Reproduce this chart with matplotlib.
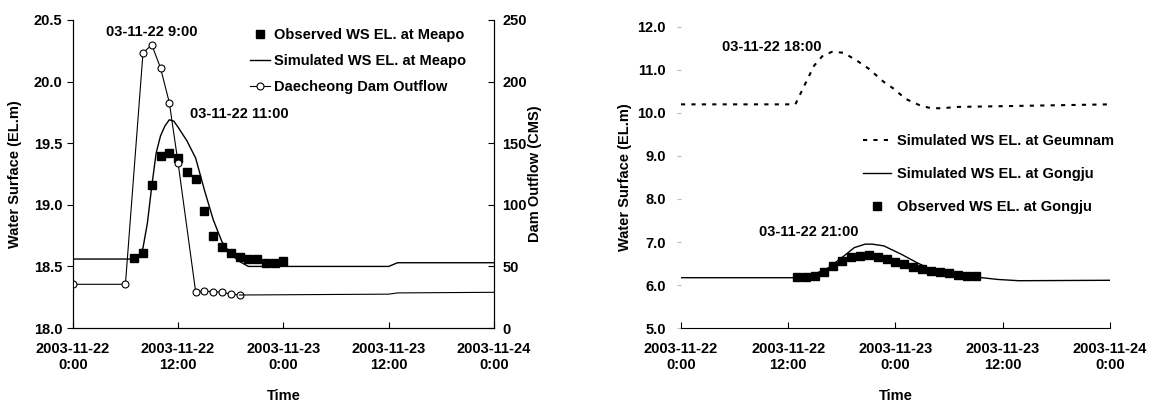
import matplotlib.pyplot as plt
import numpy as np

plt.rcParams['font.family'] = ['Liberation Sans', 'DejaVu Sans']
plt.rcParams['font.weight'] = 'bold'
plt.rcParams['axes.labelweight'] = 'bold'

# hours since 2003-11-22 0:00
# --- left chart: Meapo / Daecheong dam
obs_meapo_h = [7, 8, 9, 10, 11, 12, 13, 14, 15, 16, 17, 18, 19, 20, 21, 22, 23, 24]
obs_meapo = [18.57, 18.61, 19.16, 19.40, 19.42, 19.38, 19.27, 19.21, 18.95, 18.75,
             18.66, 18.61, 18.58, 18.56, 18.56, 18.53, 18.53, 18.54]
sim_meapo_h = [0, 7, 7.5, 8, 8.5, 9, 9.5, 10, 10.5, 11, 11.5, 12, 13, 14, 15, 16, 17, 18,
               19, 20, 36, 37, 48]
sim_meapo = [18.56, 18.56, 18.58, 18.65, 18.85, 19.15, 19.42, 19.56, 19.64, 19.69, 19.68,
             19.63, 19.52, 19.38, 19.12, 18.88, 18.70, 18.60, 18.54, 18.50, 18.50, 18.53, 18.53]
dam_h = [0, 6, 8, 9, 10, 11, 12, 14, 15, 16, 17, 18, 19]
dam_q = [35.5, 35.5, 223, 230, 211, 183, 134, 29.5, 30, 29.5, 29, 27.6, 26.8]
dam_tail_h = [19, 36, 37, 48]
dam_tail_q = [26.8, 27.5, 28.5, 29]

# --- right chart: Geumnam / Gongju
geum_h = [0, 12.8, 14, 14.9, 15.9, 16.9, 18.2, 19.8, 21, 22.7, 23.9, 25.1, 26.8, 28, 29.2, 30.9, 33.7, 48]
geum = [10.2, 10.2, 10.72, 11.1, 11.34, 11.42, 11.4, 11.2, 11.03, 10.72, 10.55, 10.33,
        10.17, 10.11, 10.11, 10.14, 10.15, 10.2]
sim_gong_h = [0, 13.5, 14.9, 16.5, 18.2, 19.4, 20.6, 21.4, 22.7, 24.7, 26.4, 28, 29.6,
              31.7, 33.7, 35.4, 37.8, 48]
sim_gong = [6.17, 6.17, 6.25, 6.4, 6.67, 6.87, 6.95, 6.95, 6.91, 6.71, 6.52, 6.36, 6.28,
            6.22, 6.17, 6.13, 6.1, 6.11]
obs_gong_h = list(range(13, 34))
obs_gong = [6.19, 6.19, 6.21, 6.30, 6.44, 6.56, 6.65, 6.68, 6.70, 6.66, 6.60, 6.53, 6.48,
            6.41, 6.38, 6.33, 6.30, 6.27, 6.23, 6.21, 6.21]

xticks = [0, 12, 24, 36, 48]
xticklabels = ['2003-11-22\n0:00', '2003-11-22\n12:00', '2003-11-23\n0:00',
               '2003-11-23\n12:00', '2003-11-24\n0:00']

fig = plt.figure(figsize=(11.53, 4.08), dpi=100)
ax = fig.add_axes([0.0631, 0.196, 0.3654, 0.755])
ax2 = ax.twinx()

fs = 10.5
tk = dict(fontsize=fs, fontweight='bold')
ax.plot(obs_meapo_h, obs_meapo, 's', color='black', ms=6, label='Observed WS EL. at Meapo')
ax.plot(sim_meapo_h, sim_meapo, '-', color='black', lw=1.0, label='Simulated WS EL. at Meapo')
ax2.plot(dam_h, dam_q, '-o', color='black', lw=0.8, ms=5, mfc='white', mew=0.8,
         label='Daecheong Dam Outflow')
ax2.plot(dam_tail_h, dam_tail_q, '-', color='black', lw=0.8)

ax.set_xlim(0, 48)
ax.set_ylim(18.0, 20.5)
ax2.set_ylim(0, 250)
ax.set_yticks(np.arange(18.0, 20.51, 0.5))
ax.set_yticklabels(['%.1f' % v for v in np.arange(18.0, 20.51, 0.5)], **tk)
ax2.set_yticks([0, 50, 100, 150, 200, 250])
ax2.set_yticklabels(['0', '50', '100', '150', '200', '250'], **tk)
ax.set_xticks(xticks)
ax.set_xticklabels(xticklabels, **tk)
ax.tick_params(axis='x', direction='in', length=4, pad=10)
ax.tick_params(axis='y', direction='out', length=4)
ax2.tick_params(axis='y', direction='in', length=4, pad=6)
ax.spines['top'].set_visible(False)
ax2.spines['top'].set_visible(False)
ax.set_ylabel('Water Surface (EL.m)', fontsize=fs, fontweight='bold', labelpad=8)
ax2.set_ylabel('Dam Outflow (CMS)', fontsize=fs, fontweight='bold', labelpad=1)
ax.set_xlabel('Time', fontsize=fs, fontweight='bold', labelpad=12)

ax.text(9.0, 20.4, '03-11-22 9:00', ha='center', va='center', fontsize=fs, fontweight='bold')
ax.text(19.0, 19.74, '03-11-22 11:00', ha='center', va='center', fontsize=fs, fontweight='bold')

h1, l1 = ax.get_legend_handles_labels()
h2, l2 = ax2.get_legend_handles_labels()
ax2.legend(h1 + h2, l1 + l2, loc='upper left', bbox_to_anchor=(0.42, 0.975),
           frameon=False, prop={'size': fs, 'weight': 'bold'}, handlelength=1.4,
           handletextpad=0.3, labelspacing=0.85, borderpad=0, borderaxespad=0)

# --- right chart
bx = fig.add_axes([0.5906, 0.196, 0.3721, 0.738])
bx.plot(geum_h, geum, color='black', lw=1.5, ls=(0, (2, 3)), label='Simulated WS EL. at Geumnam')
bx.plot(sim_gong_h, sim_gong, '-', color='black', lw=1.0, label='Simulated WS EL. at Gongju')
bx.plot(obs_gong_h, obs_gong, 's', color='black', ms=6, label='Observed WS EL. at Gongju')
bx.set_xlim(0, 48)
bx.set_ylim(5.0, 12.0)
bx.set_yticks(np.arange(5, 12.1, 1))
bx.set_yticklabels(['%.1f' % v for v in np.arange(5, 12.1, 1)], **tk)
bx.set_xticks(xticks)
bx.set_xticklabels(xticklabels, **tk)
bx.tick_params(axis='x', direction='in', length=4, pad=10)
bx.tick_params(axis='y', direction='out', length=3, color='#bbbbbb', pad=8)
for s in ['top', 'right', 'left']:
    bx.spines[s].set_visible(False)
bx.set_ylabel('Water Surface (EL.m)', fontsize=fs, fontweight='bold', labelpad=4)
bx.set_xlabel('Time', fontsize=fs, fontweight='bold', labelpad=12)
bx.text(10.2, 11.53, '03-11-22 18:00', ha='center', va='center', fontsize=fs, fontweight='bold')
bx.text(14.3, 7.23, '03-11-22 21:00', ha='center', va='center', fontsize=fs, fontweight='bold')
bx.legend(loc='upper left', bbox_to_anchor=(0.425, 0.645), frameon=False,
          prop={'size': fs, 'weight': 'bold'}, handlelength=1.9, handletextpad=0.4,
          labelspacing=1.3, borderpad=0, borderaxespad=0)

fig.savefig('out.png', dpi=100)
